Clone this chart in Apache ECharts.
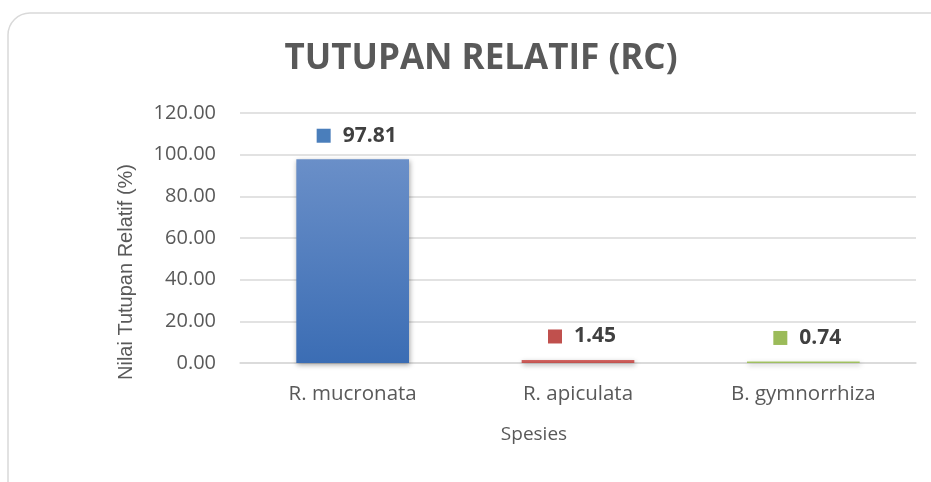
<!DOCTYPE html>
<html><head><meta charset="utf-8">
<script src="https://cdn.jsdelivr.net/npm/echarts@6/dist/echarts.min.js"></script>
<style>html,body{margin:0;padding:0;background:#fff}#c{width:931px;height:482px}</style>
</head><body><div id="c"></div>
<script>
const categories = ['R. mucronata', 'R. apiculata', 'B. gymnorrhiza'];
const values = [97.81, 1.45, 0.74];
const yTicks = [0, 20, 40, 60, 80, 100, 120];
const titleText = 'TUTUPAN RELATIF (RC)';
const xAxisName = 'Spesies';
const yAxisName = 'Nilai Tutupan Relatif (%)';

const colors = [
  ['#6a8fc8', '#3b6db4', '#4a7ebb'],
  ['#d36663', '#c0504d', '#c0504d'],
  ['#a9c96c', '#9bbb59', '#9bbb59']
];
const font = '"Open Sans", sans-serif';
const chart = echarts.init(document.getElementById('c'));
chart.setOption({
  animation: false,
  title: {
    text: titleText, left: 476, top: 37, textAlign: 'center',
    textStyle: { fontFamily: font, fontSize: 35, fontWeight: 'bold', color: '#595959' }
  },
  graphic: [
    { type: 'rect', shape: { x: 8, y: 13, width: 960, height: 500, r: 22 },
      style: { fill: 'none', stroke: '#d9d9d9', lineWidth: 1.5 }, z: -1 },
    { type: 'text', x: 534, y: 435,
      style: { text: xAxisName, font: '19px ' + font, fill: '#595959', align: 'center', verticalAlign: 'middle' } },
    { type: 'text', x: 126, y: 272, rotation: Math.PI / 2,
      style: { text: yAxisName, font: '20px "Liberation Sans", Arial, sans-serif', fill: '#595959', align: 'center', verticalAlign: 'middle' } }
  ],
  grid: { left: 240, right: 15, top: 113, bottom: 119 },
  xAxis: {
    type: 'category', data: categories,
    axisLine: { lineStyle: { color: '#d9d9d9', width: 1.5 } },
    axisTick: { show: false },
    axisLabel: { fontFamily: font, fontSize: 20.5, color: '#595959', margin: 21 }
  },
  yAxis: {
    type: 'value', min: yTicks[0], max: yTicks[yTicks.length - 1], interval: 20,
    axisLabel: { fontFamily: font, fontSize: 20, color: '#595959', margin: 24,
      formatter: v => v.toFixed(2) },
    splitLine: { lineStyle: { color: '#d9d9d9', width: 1.5 } },
    axisLine: { show: false }, axisTick: { show: false }
  },
  series: [{
    type: 'bar', barWidth: '50%',
    data: values.map((v, i) => ({
      value: v,
      itemStyle: {
        color: new echarts.graphic.LinearGradient(0, 0, 0, 1, [
          { offset: 0, color: colors[i][0] }, { offset: 1, color: colors[i][1] }
        ]),
        shadowColor: 'rgba(0,0,0,0.35)', shadowBlur: 5, shadowOffsetX: 1, shadowOffsetY: 2
      },
      label: { rich: { m: { width: 14, height: 14, backgroundColor: colors[i][2] },
        v: { fontFamily: font, fontSize: 21, fontWeight: 'bold', color: '#404040', padding: [0, 0, 0, 12] } } }
    })),
    label: {
      show: true, position: 'top', distance: 13, offset: [4, 0],
      formatter: p => '{m|}{v|' + p.value.toFixed(2) + '}'
    }
  }]
});
</script></body></html>
